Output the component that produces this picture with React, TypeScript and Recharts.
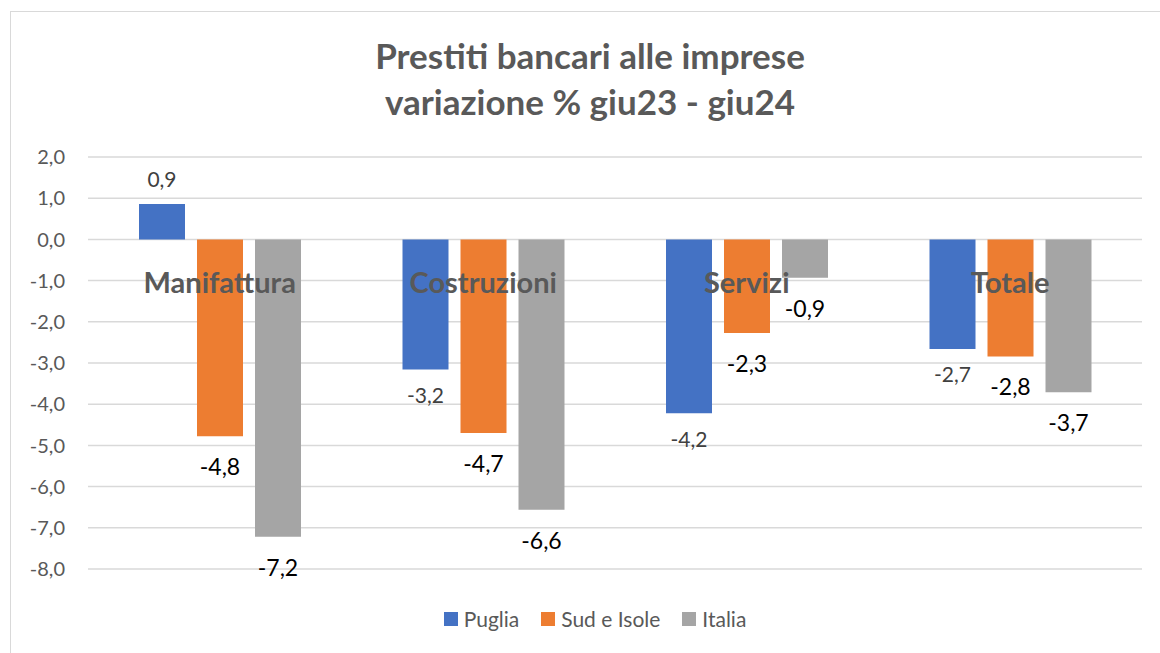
import { Bar, BarChart, CartesianGrid, LabelList, XAxis, YAxis } from "recharts";

const categories = ["Manifattura", "Costruzioni", "Servizi", "Totale"];
const puglia = [0.86, -3.16, -4.22, -2.66];
const sudIsole = [-4.78, -4.7, -2.27, -2.84];
const italia = [-7.22, -6.56, -0.93, -3.71];
const yTicks = [2, 1, 0, -1, -2, -3, -4, -5, -6, -7, -8];
const titleLines = ["Prestiti bancari alle imprese", "variazione % giu23 - giu24"];

const series = [
  { key: "puglia", name: "Puglia", color: "#4472C4", labelSize: 21, labelColor: "#404040", gap: 25 },
  { key: "sudIsole", name: "Sud e Isole", color: "#ED7D31", labelSize: 23, labelColor: "#000000", gap: 30 },
  { key: "italia", name: "Italia", color: "#A5A5A5", labelSize: 23, labelColor: "#000000", gap: 30 },
];

const data = categories.map((name, i) => ({
  name,
  puglia: puglia[i],
  sudIsole: sudIsole[i],
  italia: italia[i],
}));

const W = 1160;
const H = 653;
const X_AXIS_H = 30;
const MARGIN = { top: 157, right: 18, bottom: 84 - X_AXIS_H, left: 0 };
const Y_MIN = -8;
const Y_MAX = 2;
const FONT = "Lato, 'Open Sans', sans-serif";
const GREY_TEXT = "#595959";

const fmt = (v: number) => v.toFixed(1).replace(".", ",");

function makeLabel(fontSize: number, color: string, gap: number) {
  return (props: any) => {
    const x = Number(props.x);
    const y = Number(props.y);
    const w = Number(props.width);
    const h = Number(props.height);
    const v = Number(props.value);
    const top = Math.min(y, y + h);
    const bottom = Math.max(y, y + h);
    const cy = v >= 0 ? top - gap : bottom + gap;
    return (
      <text
        x={x + w / 2}
        y={cy}
        textAnchor="middle"
        dominantBaseline="central"
        fontSize={fontSize}
        fontFamily={FONT}
        fill={color}
      >
        {fmt(v)}
      </text>
    );
  };
}

// category names sit just under the zero line, like Excel's "next to axis"
const plotH = H - 157 - 84;
const zeroUp = ((0 - Y_MIN) / (Y_MAX - Y_MIN)) * plotH;

function renderCategoryTick(props: any) {
  return (
    <text
      x={props.x}
      y={H - 84 - zeroUp + 42}
      textAnchor="middle"
      dominantBaseline="central"
      fontSize={29}
      fontWeight={700}
      fontFamily={FONT}
      fill={GREY_TEXT}
    >
      {props.payload.value}
    </text>
  );
}

function Legend() {
  return (
    <div
      style={{
        position: "absolute",
        top: 606,
        left: 0,
        width: 1190,
        display: "flex",
        justifyContent: "center",
        gap: 22,
        fontFamily: FONT,
        fontSize: 21,
        color: GREY_TEXT,
      }}
    >
      {series.map((s) => (
        <div key={s.key} style={{ display: "flex", alignItems: "center", gap: 6 }}>
          <span style={{ width: 14, height: 14, background: s.color, display: "inline-block" }} />
          <span>{s.name}</span>
        </div>
      ))}
    </div>
  );
}

export default function App() {
  return (
    <div
      style={{
        position: "absolute",
        left: 0,
        top: 0,
        width: W,
        height: H,
        overflow: "hidden",
        background: "#fff",
      }}
    >
      <div
        style={{
          position: "absolute",
          left: 10,
          top: 11,
          width: W + 40,
          height: H + 40,
          border: "1.5px solid #d9d9d9",
        }}
      />
      <div
        style={{
          position: "absolute",
          top: 32,
          left: 20,
          width: 1140,
          textAlign: "center",
          fontFamily: FONT,
          fontWeight: 700,
          fontSize: 35,
          lineHeight: "46px",
          color: GREY_TEXT,
        }}
      >
        {titleLines.map((t) => (
          <div key={t}>{t}</div>
        ))}
      </div>
      <div style={{ position: "absolute", left: 0, top: 0 }}>
        <BarChart
          width={W}
          height={H}
          data={data}
          margin={MARGIN}
          barCategoryGap={51}
          barGap={12}
        >
          <CartesianGrid vertical={false} stroke="#d9d9d9" strokeWidth={1.5} />
          <YAxis
            domain={[Y_MIN, Y_MAX]}
            ticks={yTicks}
            width={88}
            axisLine={false}
            tickLine={false}
            tickMargin={17}
            tickFormatter={fmt}
            tick={{ fontSize: 20, fill: GREY_TEXT, fontFamily: FONT }}
            interval={0}
          />
          {series.map((s) => (
            <Bar key={s.key} dataKey={s.key} name={s.name} fill={s.color} isAnimationActive={false}>
              <LabelList dataKey={s.key} content={makeLabel(s.labelSize, s.labelColor, s.gap)} />
            </Bar>
          ))}
          <XAxis
            dataKey="name"
            height={X_AXIS_H}
            axisLine={false}
            tickLine={false}
            tick={renderCategoryTick}
            interval={0}
          />
        </BarChart>
      </div>
      <Legend />
    </div>
  );
}
